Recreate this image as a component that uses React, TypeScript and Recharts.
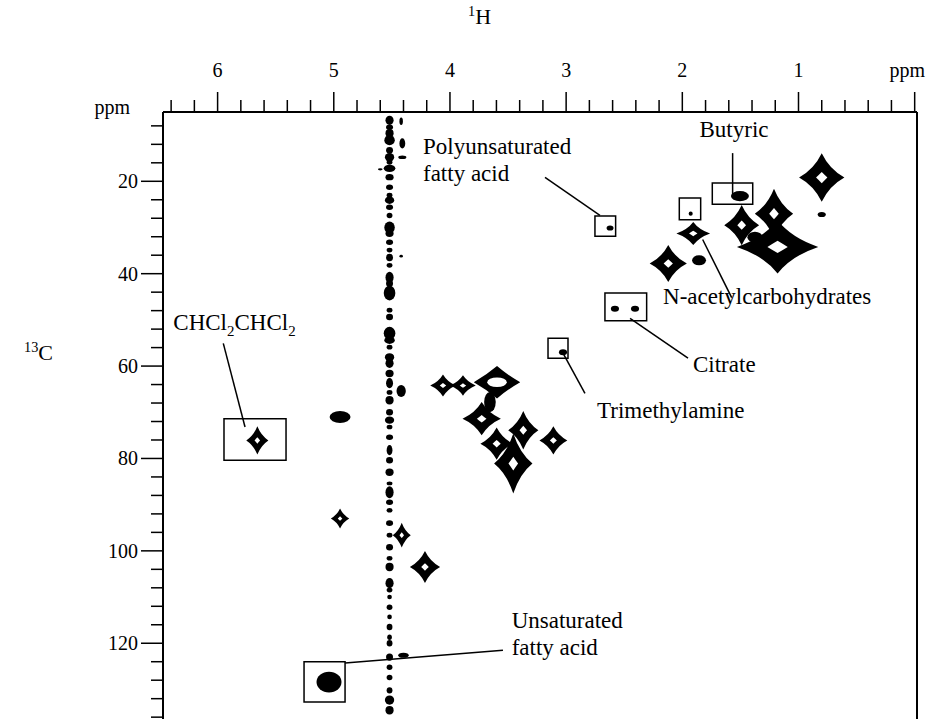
import React from "react";
import { ScatterChart, Scatter, XAxis, YAxis, ReferenceLine, ReferenceArea } from "recharts";

// layout of the scanned figure
const W = 927;
const H = 719;
const PLOT_LEFT = 163;
const PLOT_TOP = 112;
const PLOT_RIGHT = 917;
const FONT = '"Liberation Serif", "Times New Roman", serif';

// axis ranges (ppm)
const H_MIN = -0.02;
const H_MAX = 6.47;
const C_MIN = 5;
const C_MAX = 136.4;

const H_TICKS = [0, 0.2, 0.4, 0.6, 0.8, 1, 1.2, 1.4, 1.6, 1.8, 2, 2.2, 2.4, 2.6, 2.8, 3, 3.2, 3.4, 3.6, 3.8, 4, 4.2, 4.4, 4.6, 4.8, 5, 5.2, 5.4, 5.6, 5.8, 6, 6.2, 6.4];
const C_TICKS = [8, 12, 16, 20, 24, 28, 32, 36, 40, 44, 48, 52, 56, 60, 64, 68, 72, 76, 80, 84, 88, 92, 96, 100, 104, 108, 112, 116, 120, 124, 128, 132, 136];
const C_LABELED = [20, 40, 60, 80, 100, 120];

// cross peaks: [1H ppm, 13C ppm, 1H width, 13C width]
const STAR_PEAKS = [
  [0.8, 19.2, 0.39, 10.5],
  [1.489, 29.5, 0.3, 8.7],
  [1.211, 27.0, 0.33, 10.8],
  [1.18, 34.2, 0.7, 11.5],
  [1.906, 31.3, 0.29, 5.0],
  [2.121, 37.8, 0.32, 8.0],
  [5.658, 76.1, 0.19, 6.1],
  [4.946, 93.0, 0.158, 4.3],
  [4.415, 96.6, 0.155, 5.4],
  [4.215, 103.5, 0.26, 6.9],
  [4.06, 64.2, 0.22, 4.8],
  [3.888, 64.2, 0.22, 4.4],
  [3.727, 71.4, 0.33, 7.2],
  [3.369, 73.9, 0.26, 8.3],
  [3.455, 81.1, 0.33, 13.0],
  [3.11, 76.1, 0.24, 6.1],
  [3.598, 76.8, 0.28, 7.0],
];

const BLOB_PEAKS = [
  [1.504, 23.2, 0.155, 2.2],
  [0.8, 27.2, 0.07, 1.1],
  [1.375, 32.1, 0.13, 2.4],
  [1.856, 37.1, 0.12, 2.2],
  [1.928, 27.0, 0.035, 0.9],
  [2.622, 30.1, 0.06, 1.1],
  [2.58, 47.6, 0.07, 1.3],
  [2.407, 47.6, 0.07, 1.3],
  [3.027, 57.0, 0.07, 1.3],
  [4.946, 71.0, 0.18, 2.6],
  [5.041, 128.4, 0.215, 4.5],
  [3.656, 67.8, 0.1, 4.4],
  [4.4, 122.6, 0.09, 1.1],
  [4.42, 7.0, 0.03, 1.6],
  [4.41, 11.8, 0.05, 2.2],
  [4.41, 14.8, 0.07, 0.8],
  [4.6, 17.4, 0.04, 0.5],
  [4.42, 36.2, 0.03, 0.6],
  [4.42, 65.4, 0.08, 2.6],
];

const RING_PEAKS = [[3.595, 63.5, 0.4, 7.0]];

// water ridge at ~4.52 ppm: [13C ppm, 1H width, 13C width]
const RIDGE_H = 4.52;
const RIDGE = [
  [6.8, 0.07, 2.0], [8.3, 0.06, 1.2], [9.6, 0.07, 1.8], [11.1, 0.09, 2.2], [13.3, 0.06, 1.5],
  [14.8, 0.08, 1.8], [15.9, 0.05, 1.0], [17.2, 0.1, 1.6], [19.1, 0.07, 1.4], [21.3, 0.06, 1.2],
  [23.0, 0.05, 1.0], [24.1, 0.08, 1.6], [25.6, 0.06, 1.2], [27.4, 0.05, 1.2], [30.0, 0.09, 2.6],
  [31.3, 0.07, 1.5], [33.2, 0.06, 1.2], [34.9, 0.05, 1.0], [36.5, 0.06, 1.6], [38.2, 0.05, 1.0],
  [40.8, 0.07, 2.4], [42.1, 0.06, 1.6], [44.2, 0.1, 3.2], [47.9, 0.05, 1.0], [49.4, 0.06, 1.4],
  [52.9, 0.1, 2.8], [54.4, 0.09, 1.6], [55.9, 0.05, 1.0], [58.1, 0.08, 1.8], [59.4, 0.07, 2.0],
  [61.6, 0.07, 1.6], [63.7, 0.06, 2.2], [65.7, 0.05, 1.0], [67.4, 0.07, 1.8], [70.0, 0.06, 1.4],
  [71.7, 0.08, 1.6], [73.2, 0.05, 1.0], [75.4, 0.06, 1.2], [78.2, 0.05, 2.2], [80.4, 0.06, 1.4],
  [83.0, 0.07, 1.6], [85.4, 0.05, 0.8], [87.3, 0.07, 2.6], [89.5, 0.06, 1.2], [91.2, 0.05, 1.0],
  [94.0, 0.06, 1.2], [96.6, 0.05, 1.0], [99.2, 0.06, 1.4], [101.6, 0.05, 1.0], [103.5, 0.07, 1.8],
  [107.0, 0.07, 2.2], [108.5, 0.05, 1.0], [110.0, 0.04, 1.0], [112.2, 0.05, 1.2], [114.3, 0.04, 1.0],
  [116.5, 0.05, 1.4], [118.7, 0.04, 1.2], [120.0, 0.05, 1.4], [123.0, 0.06, 1.6], [125.2, 0.05, 1.2],
  [127.4, 0.05, 1.2], [130.2, 0.05, 1.4], [132.3, 0.08, 2.0], [134.5, 0.07, 1.8],
];

// annotations: [1H, 13C, anchor, lines]
const NOTES: [number, number, string, string[]][] = [
  [4.232, 14.16, "start", ["Polyunsaturated", "fatty acid"]],
  [1.555, 10.48, "middle", ["Butyric"]],
  [2.166, 46.6, "start", ["N-acetylcarbohydrates"]],
  [1.908, 61.3, "start", ["Citrate"]],
  [2.734, 71.3, "start", ["Trimethylamine"]],
  [6.381, 52.25, "start", ["CHCl_2CHCl_2"]],
  [3.469, 116.8, "start", ["Unsaturated", "fatty acid"]],
];

// leader lines: [h1, c1, h2, c2]
const LEADERS = [
  [3.182, 19.13, 2.709, 27.36],
  [1.567, 13.9, 1.567, 23.0],
  [1.825, 32.6, 1.575, 45.2],
  [2.45, 49.7, 1.951, 58.3],
  [3.027, 57.2, 2.838, 65.9],
  [5.951, 55.1, 5.764, 73.2],
  [4.903, 124.3, 3.544, 121.5],
];

// boxes: [h1, h2, c1, c2]
const BOXES = [
  [1.742, 1.394, 20.37, 24.98],
  [2.026, 1.842, 23.6, 28.3],
  [2.752, 2.574, 27.5, 31.9],
  [2.666, 2.307, 44.2, 50.2],
  [3.156, 2.984, 54.0, 58.3],
  [5.945, 5.411, 71.4, 80.4],
  [5.256, 4.903, 124.0, 132.7],
];

const PX_H = (PLOT_RIGHT - PLOT_LEFT) / (H_MAX - H_MIN);
const PX_C = (H - PLOT_TOP) / (C_MAX - C_MIN);

const toPeak = (p: number[]) => ({ h: p[0], c: p[1], dh: p[2], dc: p[3] });
const stars = STAR_PEAKS.map(toPeak);
const blobs = BLOB_PEAKS.map(toPeak);
const rings = RING_PEAKS.map(toPeak);
const ridge = RIDGE.map(r => ({ h: RIDGE_H, c: r[0], dh: r[1], dc: r[2] }));
const notes = NOTES.map(n => ({ h: n[0], c: n[1], anchor: n[2], lines: n[3] }));

function starPath(cx: number, cy: number, a: number, b: number, k: number) {
  return `M${cx},${cy - b} Q${cx + k * a},${cy - k * b} ${cx + a},${cy} Q${cx + k * a},${cy + k * b} ${cx},${cy + b} Q${cx - k * a},${cy + k * b} ${cx - a},${cy} Q${cx - k * a},${cy - k * b} ${cx},${cy - b} Z`;
}

const StarShape = (p: any) => {
  const { cx, cy, payload } = p;
  const a = (payload.dh * PX_H) / 2;
  const b = (payload.dc * PX_C) / 2;
  return (
    <g>
      <path d={starPath(cx, cy, a, b, 0.34)} fill="#000" />
      <path d={starPath(cx, cy, a * 0.25, b * 0.23, 0.5)} fill="#fff" />
    </g>
  );
};

const BlobShape = (p: any) => {
  const { cx, cy, payload } = p;
  return <ellipse cx={cx} cy={cy} rx={(payload.dh * PX_H) / 2} ry={(payload.dc * PX_C) / 2} fill="#000" />;
};

const RingShape = (p: any) => {
  const { cx, cy, payload } = p;
  const a = (payload.dh * PX_H) / 2;
  const b = (payload.dc * PX_C) / 2;
  return (
    <g>
      <path d={starPath(cx, cy, a, b, 0.45)} fill="#000" />
      <ellipse cx={cx} cy={cy} rx={a * 0.42} ry={b * 0.3} fill="#fff" />
    </g>
  );
};

// "CHCl_2" -> subscripted 2, "^13" -> superscript
function richText(s: string, size: number) {
  const parts = s.split(/([_^]\d+)/).filter(x => x !== "");
  let shift = 0;
  return parts.map((part, i) => {
    if (part[0] === "_" || part[0] === "^") {
      const d = part[0] === "_" ? size * 0.25 : -size * 0.35;
      const dy = d - shift;
      shift = d;
      return <tspan key={i} dy={dy} fontSize={size * 0.65}>{part.slice(1)}</tspan>;
    }
    const dy = -shift;
    shift = 0;
    return <tspan key={i} dy={dy}>{part}</tspan>;
  });
}

const NoteShape = (p: any) => {
  const { cx, cy, payload } = p;
  return (
    <g>
      {payload.lines.map((ln: string, i: number) => (
        <text key={i} x={cx} y={cy + i * 27} fontFamily={FONT} fontSize={23} textAnchor={payload.anchor} fill="#000">
          {richText(ln, 23)}
        </text>
      ))}
    </g>
  );
};

const XTick = (p: any) => {
  const { x, payload } = p;
  const v = payload.value;
  const major = Number.isInteger(v);
  return (
    <g>
      <line x1={x} x2={x} y1={PLOT_TOP} y2={PLOT_TOP - (major ? 20 : 12)} stroke="#000" strokeWidth={1.5} />
      {major && (
        <text x={v === 0 ? 925 : x} y={77} textAnchor={v === 0 ? "end" : "middle"} fontFamily={FONT} fontSize={20} fill="#000">
          {v === 0 ? "ppm" : String(v)}
        </text>
      )}
    </g>
  );
};

const YTick = (p: any) => {
  const { y, payload } = p;
  const v = payload.value;
  const major = C_LABELED.includes(v);
  return (
    <g>
      <line x1={PLOT_LEFT} x2={PLOT_LEFT - (major ? 22 : 12)} y1={y} y2={y} stroke="#000" strokeWidth={1.5} />
      {major && (
        <text x={138} y={y + 7} textAnchor="end" fontFamily={FONT} fontSize={20} fill="#000">
          {String(v)}
        </text>
      )}
    </g>
  );
};

const HTitle = () => (
  <text x={468} y={24} fontFamily={FONT} fontSize={22} fill="#000">
    {richText("^1H", 22)}
  </text>
);

const CTitle = () => (
  <g>
    <text x={130} y={114} textAnchor="end" fontFamily={FONT} fontSize={20} fill="#000">ppm</text>
    <text x={24} y={360} fontFamily={FONT} fontSize={22} fill="#000">
      {richText("^13C", 22)}
    </text>
  </g>
);

export default function App() {
  return (
    <div style={{ position: "absolute", left: 0, top: 0, width: W, height: H, background: "#fff", overflow: "hidden" }}>
      <ScatterChart width={W} height={H} margin={{ top: 0, right: W - PLOT_RIGHT, bottom: 0, left: 0 }}>
        <XAxis
          xAxisId={0}
          type="number"
          dataKey="h"
          orientation="top"
          height={PLOT_TOP}
          domain={[H_MIN, H_MAX]}
          reversed
          ticks={H_TICKS}
          interval={0}
          tick={<XTick />}
          tickLine={false}
          axisLine={{ stroke: "#000", strokeWidth: 2 }}
          label={() => <HTitle />}
        />
        <YAxis
          yAxisId={0}
          type="number"
          dataKey="c"
          width={PLOT_LEFT}
          domain={[C_MIN, C_MAX]}
          reversed
          ticks={C_TICKS}
          interval={0}
          tick={<YTick />}
          tickLine={false}
          axisLine={{ stroke: "#000", strokeWidth: 2 }}
          label={() => <CTitle />}
        />
        <ReferenceLine x={H_MIN} stroke="#000" strokeWidth={2} />
        {BOXES.map((b, i) => (
          <ReferenceArea key={"b" + i} x1={b[0]} x2={b[1]} y1={b[2]} y2={b[3]} stroke="#000" strokeWidth={1.5} fill="none" fillOpacity={0} />
        ))}
        {LEADERS.map((l, i) => (
          <ReferenceLine key={"l" + i} segment={[{ x: l[0], y: l[1] }, { x: l[2], y: l[3] }]} stroke="#000" strokeWidth={1.5} />
        ))}
        <Scatter data={ridge} shape={BlobShape} isAnimationActive={false} />
        <Scatter data={blobs} shape={BlobShape} isAnimationActive={false} />
        <Scatter data={rings} shape={RingShape} isAnimationActive={false} />
        <Scatter data={stars} shape={StarShape} isAnimationActive={false} />
        <Scatter data={notes} shape={NoteShape} isAnimationActive={false} />
      </ScatterChart>
    </div>
  );
}
